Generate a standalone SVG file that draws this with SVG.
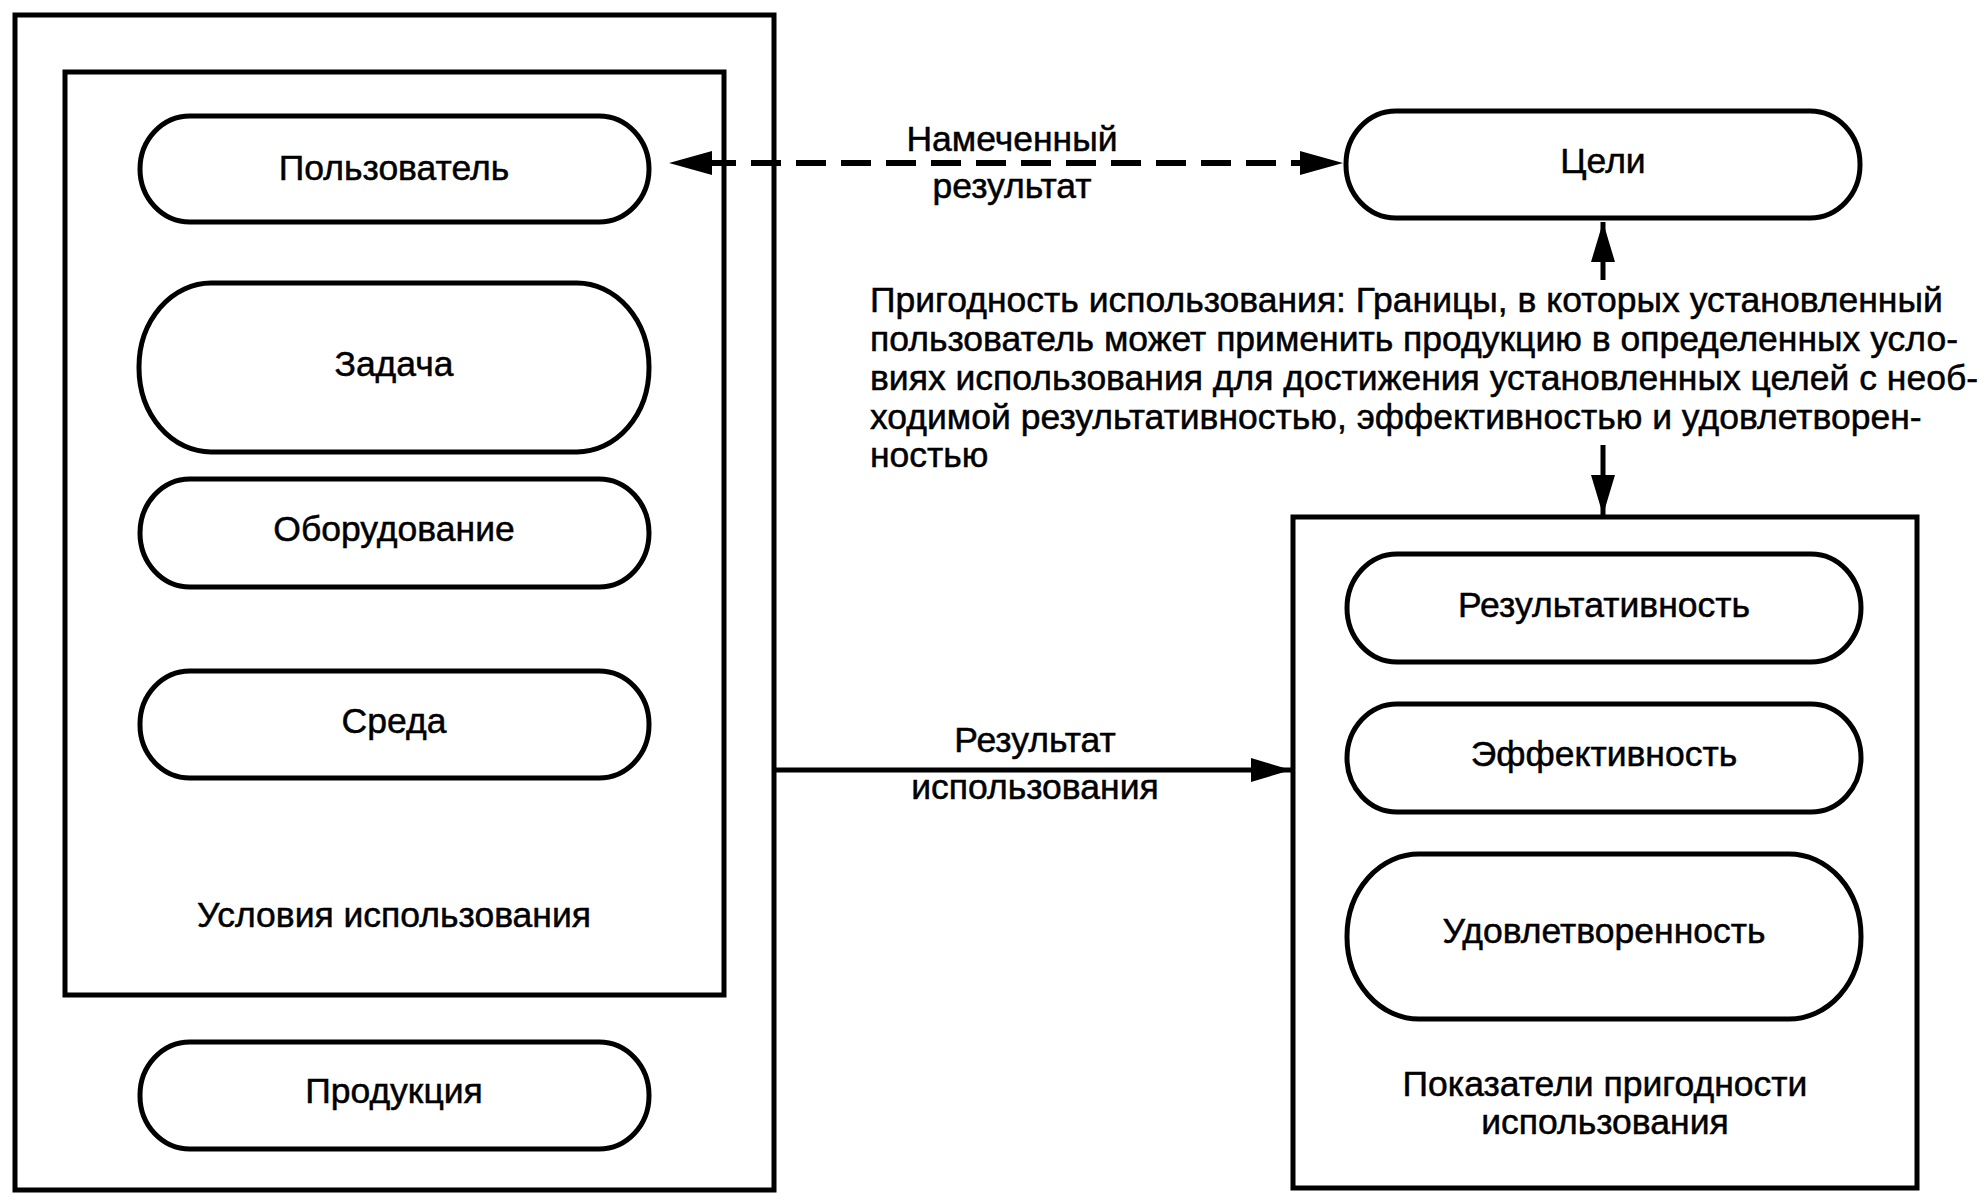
<svg xmlns="http://www.w3.org/2000/svg" width="1984" height="1200" viewBox="0 0 1984 1200">
<style>
  .box { fill: none; stroke: #000; stroke-width: 5; }
  .pill { fill: #fff; stroke: #000; stroke-width: 5; }
  .t { font-family: "Liberation Sans", Arial, sans-serif; font-size: 35.5px; fill: #000; stroke: #000; stroke-width: 0.5; text-anchor: middle; }
  .p { font-family: "Liberation Sans", Arial, sans-serif; font-size: 35.5px; fill: #000; stroke: #000; stroke-width: 0.5; }
  .ln { stroke: #000; stroke-width: 5; fill: none; }
  .dash { stroke: #000; stroke-width: 6; fill: none; stroke-dasharray: 30 15; }
</style>
<defs>
  <marker id="ah" viewBox="0 0 40 24" refX="40" refY="12" markerWidth="40" markerHeight="24" markerUnits="userSpaceOnUse" orient="auto-start-reverse">
    <path d="M0,0 L40,12 L0,24 Z" fill="#000"/>
  </marker>
</defs>
<rect width="1984" height="1200" fill="#fff"/>

<g id="product-frame">
  <rect class="box" x="15" y="15" width="759" height="1175"/>
</g>
<g id="context-of-use">
  <rect class="box" x="65" y="72" width="659" height="923"/>
  <text class="t" x="394" y="927">Условия использования</text>
</g>
<g id="user">
  <rect class="pill" x="140" y="116" width="509" height="106" rx="50" ry="53"/>
  <text class="t" x="394" y="180">Пользователь</text>
</g>
<g id="task">
  <rect class="pill" x="139" y="283" width="510" height="169" rx="72" ry="84"/>
  <text class="t" x="394" y="376">Задача</text>
</g>
<g id="equipment">
  <rect class="pill" x="140" y="479" width="509" height="108" rx="50" ry="54"/>
  <text class="t" x="394" y="541">Оборудование</text>
</g>
<g id="environment">
  <rect class="pill" x="140" y="671" width="509" height="107" rx="50" ry="53"/>
  <text class="t" x="394" y="733">Среда</text>
</g>
<g id="product">
  <rect class="pill" x="140" y="1042" width="509" height="107" rx="50" ry="53"/>
  <text class="t" x="394" y="1103">Продукция</text>
</g>
<g id="goals">
  <rect class="pill" x="1346" y="111" width="514" height="107" rx="50" ry="53"/>
  <text class="t" x="1603" y="173">Цели</text>
</g>
<g id="usability-definition">
  <text class="p" x="870" y="312">Пригодность использования: Границы, в которых установленный</text>
  <text class="p" x="870" y="351">пользователь может применить продукцию в определенных усло-</text>
  <text class="p" x="870" y="390">виях использования для достижения установленных целей с необ-</text>
  <text class="p" x="870" y="429">ходимой результативностью, эффективностью и удовлетворен-</text>
  <text class="p" x="870" y="467">ностью</text>
</g>
<g id="usability-measures">
  <rect class="box" x="1293" y="517" width="624" height="671"/>
  <text class="t" x="1605" y="1096">Показатели пригодности</text>
  <text class="t" x="1605" y="1134">использования</text>
</g>
<g id="effectiveness">
  <rect class="pill" x="1347" y="554" width="514" height="108" rx="50" ry="54"/>
  <text class="t" x="1604" y="617">Результативность</text>
</g>
<g id="efficiency">
  <rect class="pill" x="1347" y="704" width="514" height="108" rx="50" ry="54"/>
  <text class="t" x="1604" y="766">Эффективность</text>
</g>
<g id="satisfaction">
  <rect class="pill" x="1347" y="854" width="514" height="165" rx="72" ry="82"/>
  <text class="t" x="1604" y="943">Удовлетворенность</text>
</g>

<g id="connectors">
  <line class="dash" x1="706" y1="163" x2="1306" y2="163"/>
  <path d="M669,163 L712,151 L712,175 Z" fill="#000"/>
  <path d="M1343,163 L1300,151 L1300,175 Z" fill="#000"/>
  <text class="t" x="1012" y="151">Намеченный</text>
  <text class="t" x="1012" y="198">результат</text>

  <line class="ln" x1="1603" y1="280" x2="1603" y2="222" marker-end="url(#ah)"/>
  <line class="ln" x1="1603" y1="445" x2="1603" y2="515" marker-end="url(#ah)"/>

  <line class="ln" x1="776" y1="770" x2="1291" y2="770" marker-end="url(#ah)"/>
  <text class="t" x="1035" y="752">Результат</text>
  <text class="t" x="1035" y="799">использования</text>
</g>
</svg>
